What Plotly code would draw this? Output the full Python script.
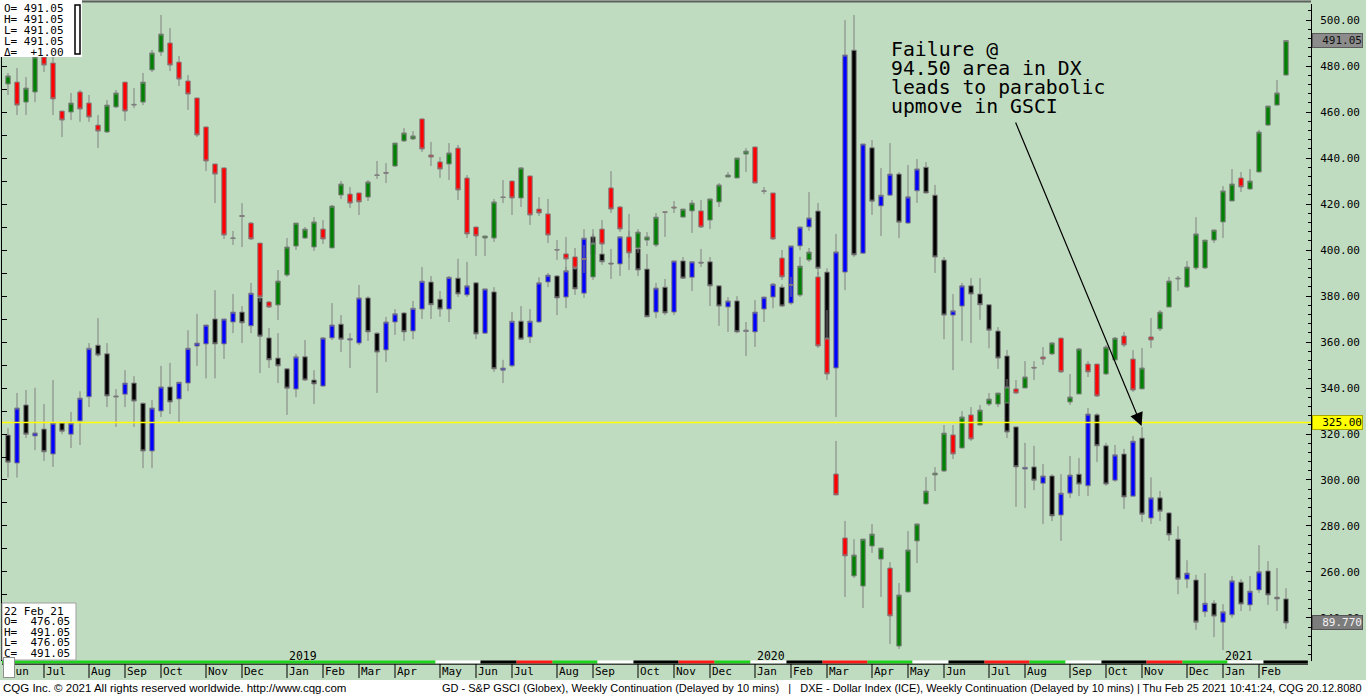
import pandas as pd
import plotly.graph_objects as go

# ---------------------------------------------------------------- data
WEEKS = pd.date_range("2018-06-04", periods=143, freq="7D")

GSCI_OPEN = [472.2, 473.0, 464.3, 468.7, 483.9, 481.3, 460.4, 460.0, 468.7, 463.9,
             454.3, 451.3, 462.2, 473.0, 463.0, 464.3, 478.3, 486.1, 490.0, 481.7,
             473.5, 466.1, 453.5, 437.4, 435.7, 405.0, 415.0, 411.7, 403.0, 377.4,
             376.1, 389.1, 401.7, 405.2, 401.3, 409.1, 400.9, 423.9, 424.3, 424.8,
             423.0, 432.4, 433.7, 436.5, 447.4, 448.3, 457.0, 441.3, 438.3, 437.4,
             444.3, 431.3, 410.0, 405.2, 405.2, 422.8, 430.0, 422.6, 432.2, 417.8,
             415.7, 400.2, 398.3, 397.0, 396.2, 388.3, 409.1, 427.0, 418.7, 405.7,
             400.9, 404.3, 402.2, 416.6, 418.7, 414.3, 417.0, 417.0, 413.0, 420.9,
             431.7, 431.3, 441.7, 444.8, 425.5, 424.8, 396.5, 385.0, 380.4, 395.7,
             388.3, 361.3, 302.6, 274.8, 258.3, 253.9, 271.3, 265.6, 261.7, 227.8,
             251.3, 273.5, 289.6, 302.2, 303.9, 319.6, 313.9, 328.3, 323.9, 333.0,
             333.0, 333.5, 339.6, 340.0, 349.0, 353.5, 354.8, 361.7, 333.9, 337.4,
             350.4, 350.4, 346.1, 352.2, 362.6, 352.6, 339.6, 362.2, 365.7, 375.2,
             387.4, 383.9, 392.2, 392.2, 404.3, 412.2, 421.3, 431.3, 426.5, 433.9,
             454.3, 463.0, 476.05]
GSCI_HIGH = [477.0, 479.1, 475.2, 487.0, 487.8, 483.9, 460.4, 468.3, 469.6, 467.4,
             458.7, 465.2, 469.6, 473.0, 470.4, 477.0, 487.0, 502.2, 496.5, 484.4,
             476.1, 466.1, 453.5, 437.4, 435.7, 408.3, 420.4, 412.2, 403.0, 377.8,
             391.3, 405.2, 411.7, 410.0, 414.3, 413.0, 419.6, 430.0, 427.4, 424.8,
             430.4, 438.7, 437.8, 446.5, 453.0, 451.7, 457.0, 447.0, 440.4, 446.5,
             445.7, 432.6, 410.0, 406.1, 422.2, 430.4, 430.0, 436.1, 432.2, 423.0,
             422.2, 404.3, 405.7, 400.9, 402.2, 409.1, 413.0, 434.3, 419.1, 415.7,
             409.1, 407.8, 416.1, 416.6, 421.3, 417.8, 421.7, 421.7, 422.2, 429.1,
             433.9, 440.0, 444.3, 444.8, 427.4, 424.8, 400.0, 388.3, 397.0, 400.9,
             390.4, 373.9, 317.0, 282.2, 274.3, 274.3, 280.9, 270.4, 264.3, 255.2,
             277.8, 280.9, 301.3, 305.6, 323.9, 323.9, 330.0, 331.7, 332.6, 337.8,
             337.8, 343.9, 343.5, 351.7, 351.7, 357.8, 360.0, 361.7, 346.1, 357.4,
             351.7, 350.4, 358.7, 362.2, 364.4, 356.5, 357.4, 370.4, 373.9, 388.3,
             388.7, 395.2, 414.3, 404.3, 408.7, 427.8, 435.2, 433.9, 435.2, 452.2,
             462.6, 473.9, 491.05]
GSCI_LOW = [467.4, 458.7, 458.7, 464.3, 477.4, 458.7, 449.1, 456.5, 455.7, 455.7,
            444.3, 450.9, 461.7, 456.1, 461.7, 463.0, 477.4, 484.4, 477.8, 471.3,
            460.9, 449.1, 434.3, 420.4, 404.8, 402.2, 401.3, 404.3, 377.4, 374.8,
            369.6, 388.3, 400.0, 404.8, 399.6, 402.6, 400.9, 422.2, 418.3, 415.2,
            421.3, 430.9, 429.1, 436.1, 447.0, 447.8, 442.6, 436.5, 431.3, 430.4,
            421.7, 405.2, 397.4, 397.4, 403.5, 420.4, 415.2, 418.7, 410.9, 414.8,
            403.0, 395.7, 390.4, 391.3, 390.0, 387.0, 399.1, 416.1, 407.8, 391.3,
            398.7, 401.7, 401.3, 405.7, 416.1, 414.3, 407.4, 409.6, 409.1, 418.7,
            431.7, 431.3, 433.9, 429.1, 424.3, 404.3, 387.0, 379.6, 379.6, 394.8,
            357.4, 343.5, 293.5, 249.1, 257.4, 244.3, 268.3, 249.1, 228.7, 226.5,
            251.3, 263.9, 289.6, 295.2, 303.5, 309.1, 313.9, 317.0, 323.9, 332.2,
            331.7, 333.5, 337.4, 340.0, 343.5, 350.0, 354.3, 346.5, 332.6, 337.4,
            344.8, 336.1, 345.7, 352.2, 357.8, 338.3, 339.6, 357.4, 364.8, 375.2,
            382.2, 383.5, 391.3, 391.7, 403.0, 405.2, 421.3, 425.2, 426.5, 433.9,
            453.9, 463.0, 476.05]
GSCI_CLOSE = [475.7, 463.0, 470.4, 483.9, 480.4, 465.7, 456.5, 463.9, 461.3, 457.8,
              451.7, 463.0, 468.3, 460.4, 463.3, 473.0, 485.7, 493.9, 480.4, 474.3,
              467.8, 450.0, 438.7, 433.0, 406.5, 405.2, 414.6, 404.8, 379.6, 375.2,
              386.5, 401.3, 411.7, 409.1, 412.2, 404.8, 419.1, 428.7, 420.4, 420.9,
              429.6, 432.6, 433.4, 446.5, 450.9, 449.6, 443.9, 440.4, 435.2, 442.2,
              426.1, 407.0, 406.1, 406.1, 420.9, 423.0, 422.6, 435.7, 415.2, 416.1,
              406.5, 400.0, 396.1, 392.2, 396.0, 403.0, 402.6, 417.8, 409.1, 398.7,
              407.8, 405.7, 414.3, 416.4, 418.3, 417.8, 420.4, 410.0, 422.2, 428.3,
              432.6, 440.0, 443.0, 429.1, 425.7, 404.8, 388.3, 384.8, 393.0, 399.1,
              358.3, 346.1, 293.5, 267.0, 267.4, 274.3, 276.5, 270.4, 240.9, 250.0,
              269.6, 280.9, 295.2, 303.0, 320.4, 311.3, 327.4, 317.8, 330.4, 335.2,
              337.8, 340.4, 337.8, 344.8, 348.7, 352.6, 359.6, 347.0, 336.1, 357.0,
              347.0, 336.5, 357.8, 361.7, 358.7, 339.1, 348.7, 360.9, 373.0, 386.5,
              387.7, 392.6, 407.0, 404.3, 408.7, 425.7, 428.7, 427.4, 430.0, 451.3,
              462.6, 468.3, 491.05]

DXY_OPEN = [94.14, 93.49, 94.84, 94.12, 94.28, 93.70, 94.42, 94.16, 94.47, 95.03,
            96.23, 96.03, 95.05, 95.09, 95.35, 94.88, 93.77, 94.70, 95.26, 94.98,
            95.35, 96.21, 96.26, 96.84, 96.26, 96.77, 97.00, 96.68, 97.33, 96.40,
            95.93, 95.68, 95.21, 95.96, 95.42, 95.28, 96.40, 96.72, 96.35, 96.28,
            97.33, 96.51, 96.12, 96.77, 96.98, 96.56, 97.07, 97.70, 97.30, 97.07,
            97.79, 97.40, 97.68, 96.51, 97.47, 95.65, 95.75, 96.79, 96.42, 96.77,
            97.70, 97.84, 97.35, 98.02, 97.44, 98.75, 98.35, 98.14, 98.12, 98.72,
            98.47, 98.00, 97.00, 97.58, 97.00, 98.19, 97.81, 98.16, 98.17, 97.61,
            97.12, 97.26, 96.55, 96.54, 97.07, 97.35, 97.58, 97.21, 98.54, 98.98,
            99.35, 97.93, 95.70, 97.93, 103.09, 98.37, 100.82, 99.47, 99.72, 100.21,
            99.07, 99.82, 100.37, 99.72, 98.21, 96.93, 97.14, 97.61, 97.42, 97.17,
            96.56, 95.98, 94.33, 93.35, 93.40, 93.02, 93.19, 92.28, 92.79, 93.23,
            92.96, 94.61, 93.89, 93.09, 93.70, 92.72, 94.07, 92.21, 92.68, 92.33,
            91.72, 90.79, 90.77, 90.03, 90.23, 89.79, 89.96, 90.72, 90.19, 90.54,
            90.98, 90.37, 90.33]
DXY_HIGH = [94.30, 95.12, 95.19, 95.24, 94.86, 95.42, 94.44, 94.68, 95.16, 96.28,
            96.86, 96.28, 95.21, 95.65, 95.51, 94.90, 94.96, 95.75, 95.82, 95.37,
            96.58, 96.96, 96.70, 97.51, 96.84, 97.42, 97.14, 97.68, 97.35, 96.63,
            96.51, 95.70, 96.03, 96.35, 95.65, 96.42, 97.21, 96.93, 96.51, 97.63,
            97.37, 96.53, 96.89, 97.07, 97.00, 97.26, 98.05, 97.84, 97.49, 97.84,
            98.24, 98.17, 97.70, 97.54, 97.58, 95.89, 97.00, 97.14, 97.07, 97.81,
            97.91, 97.86, 98.05, 98.05, 98.93, 98.82, 98.40, 98.47, 98.75, 98.89,
            98.54, 98.35, 97.68, 97.77, 98.19, 98.28, 98.17, 98.47, 98.28, 97.61,
            97.35, 97.37, 96.77, 97.28, 97.35, 97.68, 97.65, 98.54, 98.98, 99.79,
            99.54, 98.02, 98.82, 103.79, 103.91, 100.91, 101.00, 100.35, 100.93, 100.26,
            100.42, 100.56, 100.49, 99.96, 98.28, 97.42, 97.68, 97.79, 97.79, 97.17,
            96.65, 96.12, 94.33, 93.96, 93.89, 93.47, 93.23, 93.23, 93.65, 93.61,
            94.77, 94.65, 93.96, 93.91, 93.82, 94.12, 94.33, 93.16, 92.84, 92.35,
            92.02, 91.23, 90.89, 90.93, 90.30, 90.21, 90.86, 90.79, 90.86, 91.58,
            91.21, 91.05, 90.58]
DXY_LOW = [93.15, 93.15, 94.07, 93.79, 93.54, 93.40, 94.16, 93.84, 93.91, 94.79,
           95.96, 94.79, 94.33, 94.79, 94.33, 93.37, 93.37, 94.56, 94.63, 94.42,
           95.16, 95.75, 95.46, 95.46, 95.91, 96.51, 96.28, 96.51, 95.58, 95.70,
           95.35, 94.61, 95.02, 95.40, 94.86, 95.26, 96.35, 96.07, 95.70, 96.23,
           96.33, 95.12, 95.84, 96.47, 96.33, 96.37, 96.84, 96.84, 96.89, 96.77,
           97.35, 97.35, 96.37, 96.49, 95.61, 95.35, 95.72, 96.37, 96.28, 96.75,
           97.58, 96.93, 97.09, 97.40, 97.33, 98.26, 98.10, 97.77, 97.84, 98.26,
           97.84, 96.89, 96.86, 96.93, 96.93, 97.77, 97.49, 98.05, 97.14, 96.68,
           96.54, 96.51, 95.98, 96.19, 96.77, 97.09, 97.12, 97.17, 98.44, 98.89,
           97.86, 96.23, 94.56, 97.51, 98.28, 98.35, 99.26, 98.77, 99.70, 98.72,
           99.05, 99.54, 99.77, 97.91, 96.37, 95.65, 96.33, 96.28, 96.82, 96.16,
           95.68, 94.07, 92.47, 92.44, 92.86, 92.07, 92.14, 91.68, 92.68, 92.72,
           92.72, 93.51, 92.96, 93.05, 92.42, 92.72, 92.12, 92.07, 92.14, 91.68,
           90.44, 90.58, 89.61, 89.91, 89.44, 89.14, 89.89, 90.05, 90.05, 90.47,
           90.19, 90.05, 89.63]
DXY_CLOSE = [93.51, 94.77, 94.16, 94.19, 93.75, 94.42, 94.23, 94.42, 95.00, 96.16,
             96.00, 95.05, 95.03, 95.35, 94.93, 93.77, 94.77, 95.26, 94.91, 95.37,
             96.16, 96.28, 96.70, 96.26, 96.84, 97.00, 96.75, 97.44, 96.44, 95.89,
             95.75, 95.23, 95.96, 95.42, 95.33, 96.40, 96.70, 96.37, 96.38, 97.33,
             96.54, 96.07, 96.77, 96.96, 96.54, 97.09, 97.72, 97.17, 97.07, 97.81,
             97.42, 97.61, 96.49, 97.54, 95.68, 95.70, 96.79, 96.37, 96.79, 97.68,
             97.86, 97.33, 97.96, 97.54, 98.72, 98.35, 98.17, 98.12, 98.75, 98.42,
             97.98, 96.89, 97.56, 96.98, 98.19, 97.79, 98.17, 98.14, 97.61, 97.14,
             97.26, 96.54, 96.58, 97.00, 97.35, 97.65, 97.14, 98.54, 98.98, 99.19,
             98.02, 96.37, 98.40, 102.98, 98.33, 100.91, 99.58, 99.72, 100.21, 99.09,
             99.68, 100.33, 99.77, 98.28, 96.93, 97.03, 97.61, 97.42, 97.17, 96.58,
             95.93, 94.21, 93.40, 93.39, 93.09, 93.19, 92.26, 92.79, 93.21, 93.00,
             94.63, 93.89, 93.00, 93.68, 92.70, 94.00, 92.30, 92.68, 92.37, 91.82,
             90.79, 90.93, 89.79, 90.23, 89.93, 90.03, 90.75, 90.21, 90.51, 90.96,
             90.42, 90.33, 89.77]

for _s in (GSCI_OPEN, GSCI_HIGH, GSCI_LOW, GSCI_CLOSE, DXY_OPEN, DXY_HIGH, DXY_LOW, DXY_CLOSE):
    assert len(_s) == len(WEEKS)

GSCI_AXIS_RANGE = [221.3, 506.96]
DXY_AXIS_RANGE = [88.886, 104.165]
X_RANGE = ["2018-05-30 08:00", "2021-03-13 10:40"]
GSCI_LEVEL = 325.0
GSCI_LAST, DXY_LAST = 491.05, 89.77
ARROW_BAR = 126   # DX week that failed near 94.50

# contract band along the time axis (start weeks of each colour block)
BAND_BREAKS = ["2019-05-06", "2019-06-10", "2019-07-08", "2019-08-05", "2019-09-09",
               "2019-10-07", "2019-11-11", "2019-12-09", "2020-01-06", "2020-02-03",
               "2020-03-02", "2020-04-06", "2020-05-11", "2020-06-08", "2020-07-06",
               "2020-08-10", "2020-09-07", "2020-10-05", "2020-11-09", "2020-12-07",
               "2021-01-11", "2021-02-08"]
BAND_END = "2021-03-11"
GREEN_BAND = "#1ed21e"
BAND_COLORS = [GREEN_BAND] + ["#ffffff", "#000000", "#ff1a1a", GREEN_BAND] * 5 + ["#ffffff", "#000000"]

TL_LINES = ["O= 491.05", "H= 491.05", "L= 491.05", "L= 491.05", "\u0394=  +1.00"]
BL_LINES = ["22 Feb 21", "O=  476.05", "H=  491.05", "L=  476.05", "C=  491.05"]
NOTE_LINES = ["Failure @", "94.50 area in DX", "leads to parabolic", "upmove in GSCI"]
FOOT_LEFT = "CQG Inc. \u00a9 2021 All rights reserved worldwide. http://www.cqg.com"
FOOT_RIGHT = ("GD - S&P GSCI (Globex), Weekly Continuation (Delayed by 10 mins)   |   "
              "DXE - Dollar Index (ICE), Weekly Continuation (Delayed by 10 mins) | "
              "Thu Feb 25 2021 10:41:24, CQG 20.12.8080")

# ---------------------------------------------------------------- layout helpers
W, H = 1366, 696
ML, MR, MT, MB = 2, 55, 4, 35
PW, PH = W - ML - MR, H - MT - MB


def fx(px):
    return (px - ML) / PW


def fy(py):
    return (H - MB - py) / PH


BG = "#C0DCC0"
MONO = "DejaVu Sans Mono"
SANS = "Liberation Sans"

fig = go.Figure()
fig.add_trace(go.Candlestick(
    x=WEEKS, open=DXY_OPEN, high=DXY_HIGH, low=DXY_LOW, close=DXY_CLOSE,
    xaxis="x", yaxis="y", whiskerwidth=0, hoverinfo="skip", showlegend=False,
    increasing=dict(fillcolor="#0000ff", line=dict(color="#808080", width=1)),
    decreasing=dict(fillcolor="#000000", line=dict(color="#808080", width=1))))
fig.add_trace(go.Candlestick(
    x=WEEKS, open=GSCI_OPEN, high=GSCI_HIGH, low=GSCI_LOW, close=GSCI_CLOSE,
    xaxis="x", yaxis="y2", whiskerwidth=0, hoverinfo="skip", showlegend=False,
    increasing=dict(fillcolor="#008000", line=dict(color="#808080", width=1)),
    decreasing=dict(fillcolor="#ff0000", line=dict(color="#808080", width=1))))
fig.add_trace(go.Scatter(
    x=X_RANGE, y=[GSCI_LEVEL, GSCI_LEVEL], xaxis="x", yaxis="y3", mode="lines",
    line=dict(color="#ffff00", width=1.3), hoverinfo="skip", showlegend=False))

shapes, annotations = [], []

# colour band + base line
half = pd.Timedelta(days=3.5)
edges = [pd.Timestamp(X_RANGE[0])] + [pd.Timestamp(d) - half for d in BAND_BREAKS] + [pd.Timestamp(BAND_END)]
for k in range(len(edges) - 1):
    shapes.append(dict(type="rect", xref="x", yref="paper", x0=edges[k], x1=edges[k + 1],
                       y0=fy(663.6), y1=fy(660.6), fillcolor=BAND_COLORS[k],
                       line=dict(width=0), layer="above"))
shapes.append(dict(type="line", xref="paper", yref="paper", x0=0, x1=fx(1308),
                   y0=fy(664.2), y1=fy(664.2), line=dict(color="#000000", width=1)))

# month separators / labels, year labels
month_starts = [d for k, d in enumerate(WEEKS) if k == 0 or d.month != WEEKS[k - 1].month]
for k, d in enumerate(month_starts):
    if k > 0:
        shapes.append(dict(type="line", xref="x", yref="paper", x0=d, x1=d,
                           y0=fy(664), y1=fy(678), line=dict(color="#000000", width=1)))
    annotations.append(dict(x=(d if k > 0 else X_RANGE[0]), xref="x", y=fy(671.5), yref="paper",
                            text=d.strftime("%b"), showarrow=False, xanchor="left",
                            yanchor="middle", xshift=(0 if k > 0 else 5),
                            font=dict(family=MONO, size=11, color="#000000")))
    if d.month == 1:
        annotations.append(dict(x=d, xref="x", y=fy(656), yref="paper", text=str(d.year),
                                showarrow=False, xanchor="left", yanchor="middle", xshift=0,
                                font=dict(family=MONO, size=11.5, color="#000000")))

# top frame line
shapes.append(dict(type="line", xref="paper", yref="paper", x0=0, x1=1,
                   y0=fy(1.5), y1=fy(1.5), line=dict(color="#5f5f5f", width=2)))

# info boxes
shapes.append(dict(type="rect", xref="paper", yref="paper", x0=fx(0), x1=fx(82),
                   y0=fy(57), y1=fy(0), fillcolor="#ffffff", line=dict(width=0), layer="above"))
shapes.append(dict(type="rect", xref="paper", yref="paper", x0=fx(75), x1=fx(80),
                   y0=fy(54), y1=fy(5), fillcolor="#ffffff",
                   line=dict(color="#000000", width=1.5), layer="above"))
for k, t in enumerate(TL_LINES):
    annotations.append(dict(x=fx(2), xref="paper", y=fy(8 + 11 * k), yref="paper", text=t,
                            showarrow=False, xanchor="left", yanchor="middle",
                            font=dict(family=MONO, size=11, color="#000000")))
shapes.append(dict(type="rect", xref="paper", yref="paper", x0=fx(2), x1=fx(76),
                   y0=fy(660), y1=fy(603), fillcolor="#ffffff",
                   line=dict(color="#a0a0a0", width=1), layer="above"))
for k, t in enumerate(BL_LINES):
    annotations.append(dict(x=fx(2), xref="paper", y=fy(611 + 10.5 * k), yref="paper", text=t,
                            showarrow=False, xanchor="left", yanchor="middle",
                            font=dict(family=MONO, size=11, color="#000000")))
# small white tab at the lower-left corner (drawn over the first month label)
annotations.append(dict(x=fx(3), xref="paper", y=fy(678), yref="paper", xanchor="left",
                        yanchor="bottom", text=" ", showarrow=False, width=10, height=19,
                        bgcolor="#ffffff", bordercolor="#909090", borderwidth=1, borderpad=0,
                        font=dict(size=8)))

# right-axis value boxes
def value_box(y, yref, text, bg, border, fg):
    return dict(x=1, xref="paper", xshift=1, xanchor="left", y=y, yref=yref, yanchor="middle",
                text=text, showarrow=False, bgcolor=bg, bordercolor=border, borderwidth=1,
                borderpad=0, width=49, align="right",
                font=dict(family=MONO, size=11, color=fg))


annotations.append(value_box(GSCI_LAST, "y2", f"{GSCI_LAST:.2f}", "#8c8c8c", "#5c5c5c", "#101010"))
annotations.append(value_box(GSCI_LEVEL, "y2", f"{GSCI_LEVEL:.2f}", "#ffff00", "#a8a800", "#000000"))
annotations.append(value_box(DXY_LAST, "y", f"{DXY_LAST:.3f}", "#7c7c7c", "#555555", "#f2f2f2"))

# commentary + arrow
for k, t in enumerate(NOTE_LINES):
    annotations.append(dict(x=fx(889), xref="paper", y=fy(49 + 19.3 * k), yref="paper", text=t,
                            showarrow=False, xanchor="left", yanchor="middle",
                            font=dict(family=MONO, size=19.8, color="#000000")))
annotations.append(dict(x=WEEKS[ARROW_BAR], xref="x", y=DXY_HIGH[ARROW_BAR], yref="y",
                        ax=-127, ay=-306, axref="pixel", ayref="pixel", text="",
                        showarrow=True, arrowhead=2, arrowsize=2.2, arrowwidth=1.2,
                        arrowcolor="#000000", standoff=1))

# footer
shapes.append(dict(type="rect", xref="paper", yref="paper", x0=fx(0), x1=fx(W),
                   y0=fy(H), y1=fy(680), fillcolor="#ffffff", line=dict(width=0), layer="above"))
annotations.append(dict(x=fx(1), xref="paper", y=fy(688), yref="paper", text=FOOT_LEFT,
                        showarrow=False, xanchor="left", yanchor="middle",
                        font=dict(family=SANS, size=11.5, color="#000000")))
annotations.append(dict(x=fx(1364), xref="paper", y=fy(688), yref="paper", text=FOOT_RIGHT,
                        showarrow=False, xanchor="right", yanchor="middle",
                        font=dict(family=SANS, size=11, color="#000000")))

fig.update_layout(
    width=W, height=H,
    margin=dict(l=ML, r=MR, t=MT, b=MB, autoexpand=False),
    paper_bgcolor=BG, plot_bgcolor=BG,
    showlegend=False, hovermode=False, dragmode=False,
    xaxis=dict(type="date", range=X_RANGE, showticklabels=False, ticks="", showgrid=False,
               zeroline=False, showline=False, rangeslider=dict(visible=False), fixedrange=True),
    yaxis=dict(range=DXY_AXIS_RANGE, visible=False, fixedrange=True),
    yaxis2=dict(range=GSCI_AXIS_RANGE, overlaying="y", side="right", anchor="x",
                tick0=0, dtick=20, tickformat=".2f", ticks="inside", ticklen=5, tickwidth=1,
                tickcolor="#000000", showline=True, linecolor="#000000", linewidth=1,
                showgrid=False, zeroline=False, fixedrange=True,
                minor=dict(tick0=0, dtick=4, ticks="inside", ticklen=3, tickcolor="#000000"),
                tickfont=dict(family=MONO, size=11, color="#000000"), ticklabelstandoff=6),
    yaxis3=dict(range=GSCI_AXIS_RANGE, overlaying="y", side="left", anchor="x",
                tick0=0, dtick=10, ticks="inside", ticklen=5, tickcolor="#000000",
                showticklabels=False, showline=True, linecolor="#000000", linewidth=1,
                showgrid=False, zeroline=False, fixedrange=True),
    shapes=shapes, annotations=annotations,
)

fig.write_html("out.html", config={"displayModeBar": False},
               post_script="document.body.style.margin='0px';document.body.style.overflow='hidden';")
